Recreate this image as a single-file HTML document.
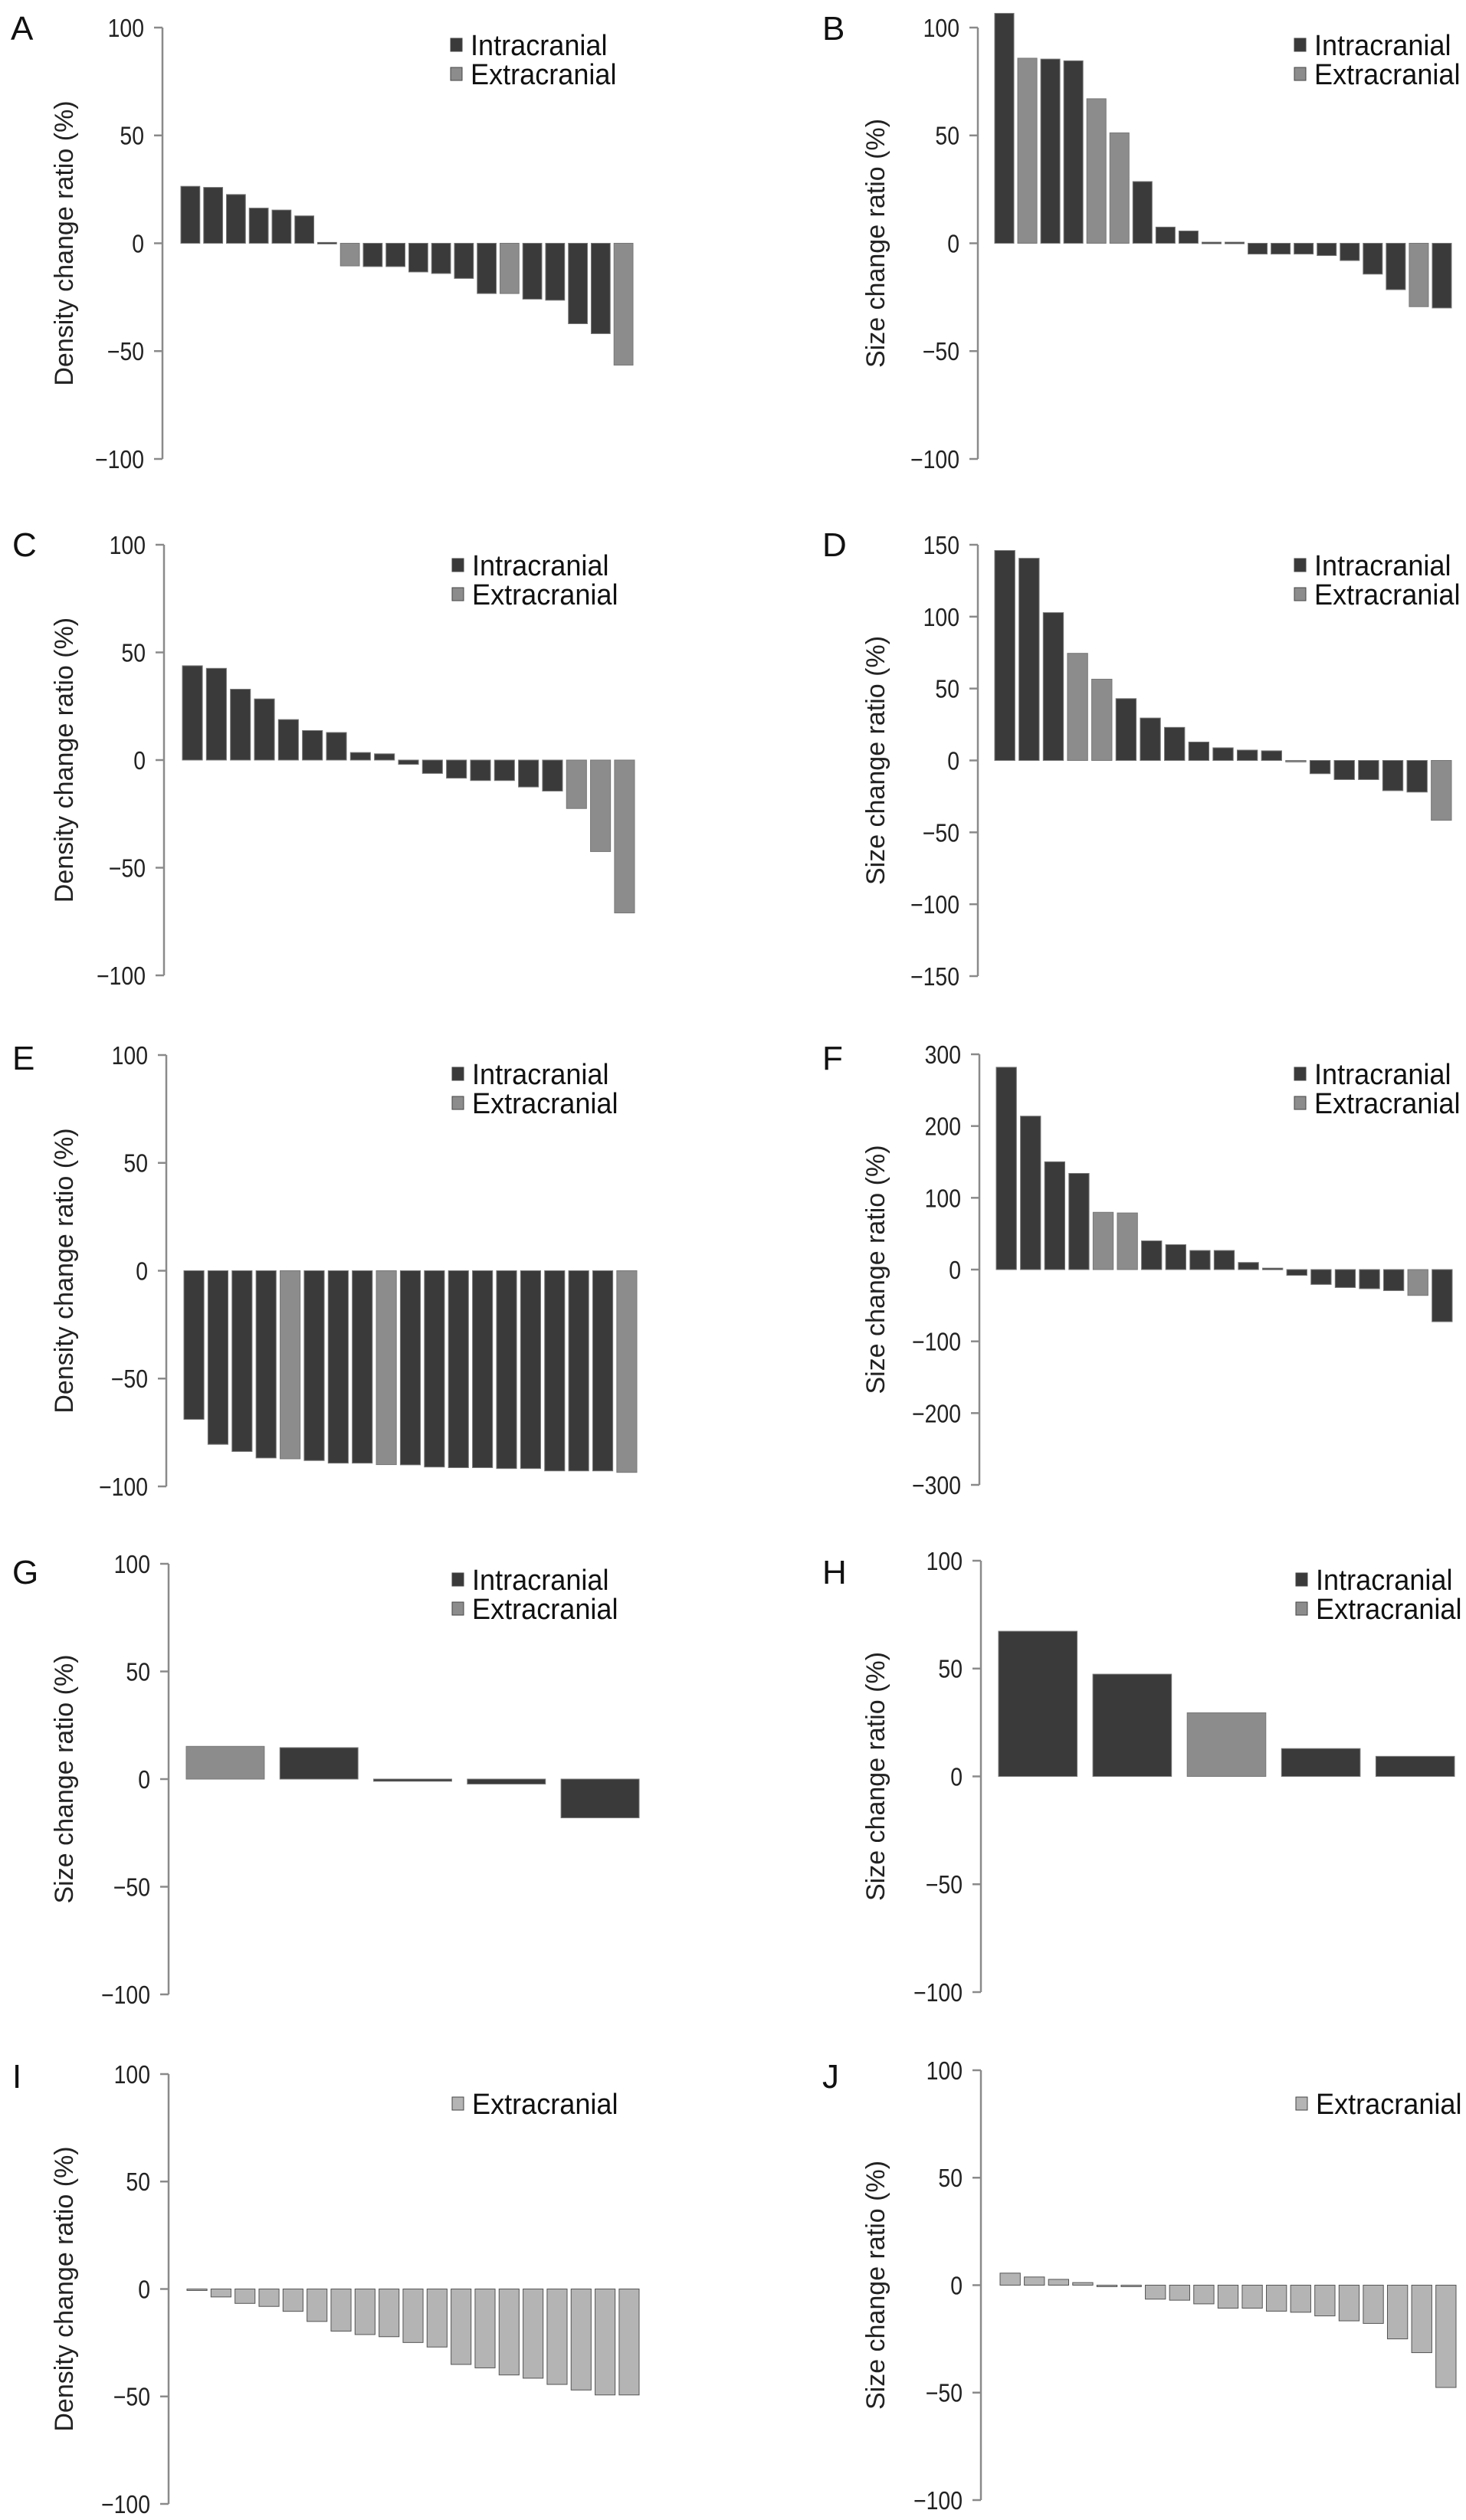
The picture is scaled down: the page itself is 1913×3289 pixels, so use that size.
<!DOCTYPE html>
<html><head><meta charset="utf-8"><style>
html,body{margin:0;padding:0;background:#fff;}
svg{display:block;font-family:"Liberation Sans",sans-serif;}
</style></head>
<body>
<svg id="fig" width="1913" height="3289" viewBox="0 0 1913 3289" xmlns="http://www.w3.org/2000/svg"></svg>
<script>
// ---- data (0 = intracranial, 1 = extracranial, 2 = extracranial-only light) ----
const valuesA=[26.4,25.9,22.6,16.3,15.4,12.7,0.4,-10.5,-10.8,-10.8,-13.3,-14,-16.3,-23.3,-23.3,-25.9,-26.4,-37.3,-41.9,-56.5];
const typesA =[0,0,0,0,0,0,0,1,0,0,0,0,0,0,1,0,0,0,0,1];
const valuesB=[106.6,85.8,85.4,84.6,67,51.2,28.6,7.5,5.7,0.5,0.5,-5,-5,-5,-5.7,-8,-14.3,-21.5,-29.4,-30];
const typesB =[0,1,0,0,1,1,0,0,0,0,0,0,0,0,0,0,0,0,1,0];
const valuesC=[43.8,42.6,32.9,28.4,18.8,13.7,12.8,3.5,2.9,-2,-6.2,-8.4,-9.5,-9.5,-12.5,-14.4,-22.5,-42.5,-71];
const typesC =[0,0,0,0,0,0,0,0,0,0,0,0,0,0,0,0,1,1,1];
const valuesD=[146,140.6,102.8,74.5,56.5,43,29.5,23,12.8,8.8,7.2,6.7,-0.5,-9.2,-13.3,-13.3,-21,-22,-41.6];
const typesD =[0,0,0,1,1,0,0,0,0,0,0,0,1,0,0,0,0,0,1];
const valuesE=[-68.9,-80.5,-83.8,-86.8,-87.2,-88,-89.2,-89.2,-89.9,-90,-91,-91.3,-91.3,-91.7,-91.7,-92.8,-92.8,-92.8,-93.5];
const typesE =[0,0,0,0,1,0,0,0,1,0,0,0,0,0,0,0,0,0,1];
const valuesF=[281.9,213.8,150.2,134,79.8,78.9,40,34.7,26.6,26.6,9.9,2,-8,-20.7,-25,-26.6,-29.3,-36,-72.6];
const typesF =[0,0,0,0,1,1,0,0,0,0,0,0,0,0,0,0,0,1,0];
const valuesG=[15.2,14.6,-1,-2.3,-18];
const typesG =[1,0,0,0,0];
const valuesH=[67.3,47.4,29.5,12.9,9.3];
const typesH =[0,0,1,0,0];
const valuesI=[-0.6,-3.7,-6.7,-8.1,-10.4,-15.1,-19.6,-21.2,-22.2,-24.9,-27,-35.1,-36.7,-40,-41.5,-44.4,-47,-49.3,-49.3];
const typesI =[2,2,2,2,2,2,2,2,2,2,2,2,2,2,2,2,2,2,2];
const valuesJ=[5.6,3.8,2.7,1.2,-0.5,-0.5,-6.5,-7,-8.7,-10.7,-10.7,-12.1,-12.6,-14.3,-16.6,-17.8,-25,-31.4,-47.6];
const typesJ =[2,2,2,2,2,2,2,2,2,2,2,2,2,2,2,2,2,2,2];
const ticks100=[100,50,0,-50,-100];
const ticks150=[150,100,50,0,-50,-100,-150];
const ticks300=[300,200,100,0,-100,-200,-300];

const NS="http://www.w3.org/2000/svg";
const svg=document.getElementById('fig');
const COL=["#3a3a3a","#8c8c8c","#b4b4b4"];
function mk(tag,attrs,parent,text){const e=document.createElementNS(NS,tag);for(const k in attrs)e.setAttribute(k,attrs[k]);if(text!==undefined)e.textContent=text;(parent||svg).appendChild(e);return e;}

function panel(o){
  const g=mk('g',{});
  
  
  const ymax=o.ticks[0], ymin=o.ticks[o.ticks.length-1];
  const y=v=>o.yTop+(ymax-v)/(ymax-ymin)*(o.yBot-o.yTop);
  const L=mk('text',{x:o.lx,y:o.ly+2,'font-size':44,fill:'#111'},g,o.letter);
  
  
  const ax=mk('line',{x1:o.ax,x2:o.ax,y1:y(ymax),y2:y(ymin),stroke:'#8a8a8a','stroke-width':2.5},g);
  
  
  o.ticks.forEach(t=>{
    const tk=mk('line',{x1:o.ax-11,x2:o.ax,y1:y(t),y2:y(t),stroke:'#8a8a8a','stroke-width':2.5},g);
    
    
    const lab=mk('text',{x:o.ax-24,y:y(t)+12,'font-size':33,'text-anchor':'end',fill:'#222',transform:`translate(${(o.ax-24)*0.14},0) scale(0.86,1)`},g,t<0?'\u2212'+(-t):String(t));
    
    
  });
  const cy=(y(ymax)+y(ymin))/2;
  const tt=mk('text',{x:o.tx,y:cy,'font-size':34,'text-anchor':'middle',fill:'#222',transform:`rotate(-90 ${o.tx} ${cy})`,dy:12},g,o.title);
  
  
  const n=o.values.length, r=1/1.2;
  const step=(o.bR-o.bL)/(n-1+r), w=step*r;
  o.values.forEach((v,i)=>{
    const x=o.bL+i*step, y0=y(0), yv=y(v);
    const h=Math.max(Math.abs(yv-y0),2);
    const b=mk('rect',{x:x,y:Math.min(y0,yv),width:w,height:h,fill:COL[o.types[i]],stroke:o.types[i]===2?'#555':'#777','stroke-width':1},g);
    
    
  });
  o.legend.forEach((it,k)=>{
    const ly=o.legY+k*38;
    const sq=mk('rect',{x:o.legX,y:ly-9,width:15,height:17,fill:COL[it.c],stroke:'#444','stroke-width':1},g);
    
    
    const lt=mk('text',{x:o.legX+26,y:ly+13,'font-size':38,fill:'#111',transform:`translate(${(o.legX+26)*0.05},0) scale(0.95,1)`},g,it.t);
    
    
  });
}
const LEG2=[{c:0,t:'Intracranial'},{c:1,t:'Extracranial'}];
const LEG1=[{c:2,t:'Extracranial'}];
const DEN='Density change ratio (%)', SIZ='Size change ratio (%)';
panel({letter:'A',lx:14,ly:50,ax:212,yTop:36,yBot:599,ticks:ticks100,tx:83,title:DEN,values:valuesA,types:typesA,bL:236,bR:826,legX:588,legY:59,legend:LEG2});
panel({letter:'B',lx:1073,ly:50,ax:1276,yTop:36,yBot:599,ticks:ticks100,tx:1142,title:SIZ,values:valuesB,types:typesB,bL:1298,bR:1894,legX:1689,legY:59,legend:LEG2});
panel({letter:'C',lx:16,ly:724,ax:214,yTop:711,yBot:1273,ticks:ticks100,tx:83,title:DEN,values:valuesC,types:typesC,bL:238,bR:828,legX:590,legY:738,legend:LEG2});
panel({letter:'D',lx:1073,ly:724,ax:1276,yTop:711,yBot:1274,ticks:ticks150,tx:1142,title:SIZ,values:valuesD,types:typesD,bL:1298,bR:1894,legX:1689,legY:738,legend:LEG2});
panel({letter:'E',lx:16,ly:1394,ax:217,yTop:1377,yBot:1940,ticks:ticks100,tx:83,title:DEN,values:valuesE,types:typesE,bL:240,bR:831,legX:590,legY:1402,legend:LEG2});
panel({letter:'F',lx:1073,ly:1394,ax:1278,yTop:1376,yBot:1938,ticks:ticks300,tx:1142,title:SIZ,values:valuesF,types:typesF,bL:1300,bR:1895,legX:1689,legY:1402,legend:LEG2});
panel({letter:'G',lx:16,ly:2065,ax:220,yTop:2041,yBot:2603,ticks:ticks100,tx:83,title:SIZ,values:valuesG,types:typesG,bL:243,bR:834,legX:590,legY:2062,legend:LEG2});
panel({letter:'H',lx:1073,ly:2065,ax:1280,yTop:2037,yBot:2600,ticks:ticks100,tx:1142,title:SIZ,values:valuesH,types:typesH,bL:1303,bR:1898,legX:1691,legY:2062,legend:LEG2});
panel({letter:'I',lx:16,ly:2723,ax:220,yTop:2707,yBot:3268,ticks:ticks100,tx:83,title:DEN,values:valuesI,types:typesI,bL:244,bR:834,legX:590,legY:2746,legend:LEG1});
panel({letter:'J',lx:1073,ly:2723,ax:1280,yTop:2702,yBot:3263,ticks:ticks100,tx:1142,title:SIZ,values:valuesJ,types:typesJ,bL:1305,bR:1900,legX:1691,legY:2746,legend:LEG1});
</script>
</body></html>
